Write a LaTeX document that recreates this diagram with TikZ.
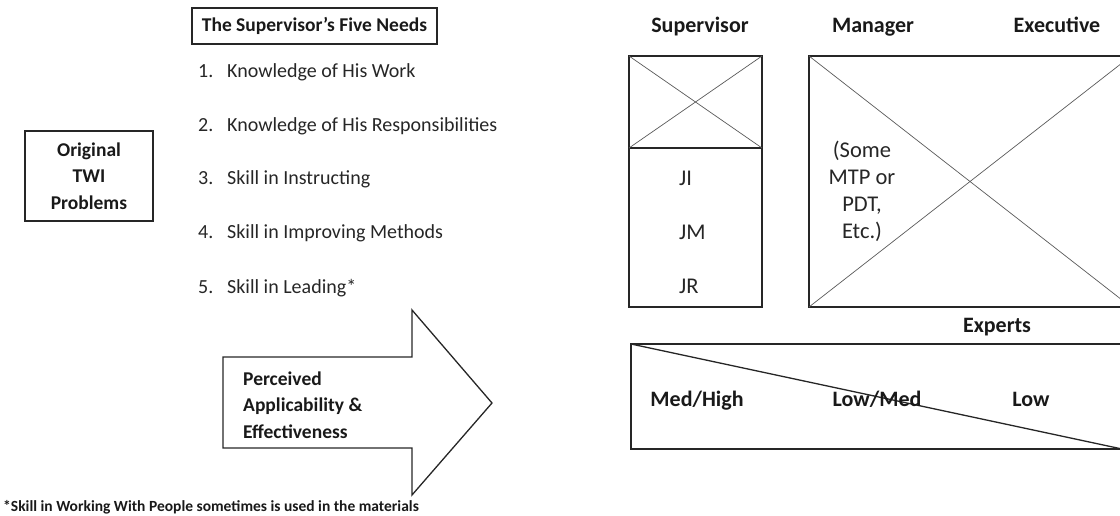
\documentclass[tikz,border=0pt]{standalone}
\usepackage{fontspec}
\setmainfont{Carlito}
\begin{document}
\begin{tikzpicture}[x=1pt,y=-1pt]
  \useasboundingbox (0,0) rectangle (1120,516);
  \tikzstyle{box}=[draw=black!85, line width=1.3pt, inner sep=0pt, outer sep=0pt]
  \tikzstyle{cross}=[draw=black!65, line width=0.7pt]
  \tikzstyle{bold}=[text=black!90, text height=15pt, text depth=3pt, font=\fontsize{19.5}{26.5}\selectfont\bfseries]
  \tikzstyle{big}=[bold, text height=16pt, font=\fontsize{22}{26.5}\selectfont\bfseries]
  \tikzstyle{item}=[anchor=west, inner sep=0pt, text height=15pt, text depth=3pt, text=black!85, font=\fontsize{20}{24}\selectfont]
  \tikzstyle{job}=[item, text height=16pt, font=\fontsize{22.5}{27}\selectfont]
  \tikzstyle{lines}=[text height=, text depth=, align=center]
  \tikzstyle{small}=[anchor=west, inner sep=0pt, text=black!90, font=\fontsize{15.5}{18}\selectfont\bfseries]

  % left side
  \node[box, bold, minimum width=245, minimum height=36] (needs) at (314.5,26) {The Supervisor’s Five Needs};
  \node[box, bold, lines, minimum width=128, minimum height=90] (orig) at (89,176) {Original\\TWI\\Problems};

  \node[item] (n1) at (198,72)  {1.};
  \node[item] (n2) at (198,126) {2.};
  \node[item] (n3) at (198,179) {3.};
  \node[item] (n4) at (198,233) {4.};
  \node[item] (n5) at (198,287) {5.};
  \node[item] (k1) at (227,72)  {Knowledge of His Work};
  \node[item] (k2) at (227,126) {Knowledge of His Responsibilities};
  \node[item] (k3) at (227,179) {Skill in Instructing};
  \node[item] (k4) at (227,233) {Skill in Improving Methods};
  \node[item] (k5) at (227,287) {Skill in Leading*};

  % levels
  \node[big] (sv) at (700,26)  {Supervisor};
  \node[big] (mg) at (873,26)  {Manager};
  \node[big] (ex) at (1057,26) {Executive};

  \node[box, minimum width=133, minimum height=92]  (sup)  at (695.5,102)   {};
  \node[box, minimum width=133, minimum height=159] (jobs) at (695.5,227.5) {};
  \node[box, minimum width=322, minimum height=251] (mgr)  at (970,181.5)   {};
  \draw[cross] (sup.north west) -- (sup.south east);
  \draw[cross] (sup.south west) -- (sup.north east);
  \draw[cross] (mgr.north west) -- (mgr.south east);
  \draw[cross] (mgr.south west) -- (mgr.north east);

  \node[job] (ji) at (679,179) {JI};
  \node[job] (jm) at (679,233) {JM};
  \node[job] (jr) at (679,287) {JR};
  \node[text=black!85, align=center, font=\fontsize{22.5}{27}\selectfont] (mtp) at (862,191)
    {(Some\\MTP or\\PDT,\\Etc.)};

  \node[big] (xp) at (997,326) {Experts};

  % applicability
  \node[box, minimum width=491, minimum height=105] (tri) at (876.5,396.5) {};
  \draw[box] (tri.north west) -- (tri.south east);
  \node[big] (mh) at (697,400)  {Med/High};
  \node[big] (lm) at (877,400)  {Low/Med};
  \node[big] (lo) at (1031,400) {Low};

  \draw[box, line join=miter] (223,357) -- (412,357) -- (412,310) -- (492,403)
    -- (412,495) -- (412,448) -- (223,448) -- cycle;
  \node[bold, lines, align=left, anchor=west, inner sep=0pt] (pae) at (243,405)
    {Perceived\\Applicability \&\\Effectiveness};

  \node[small] (note) at (3,507) {*Skill in Working With People sometimes is used in the materials};
\end{tikzpicture}
\end{document}
